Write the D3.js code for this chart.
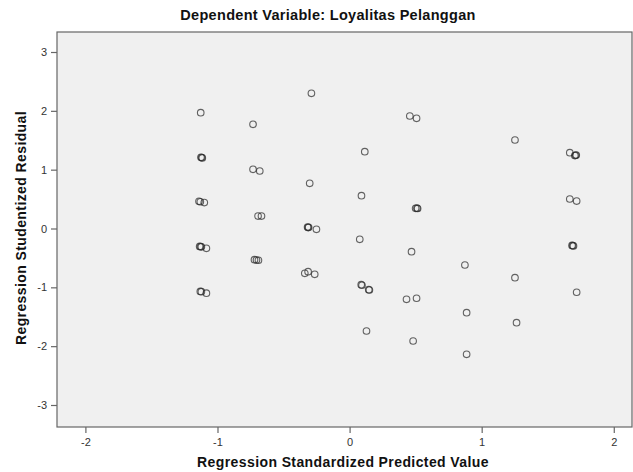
<!DOCTYPE html>
<html><head><meta charset="utf-8">
<script src="https://cdn.jsdelivr.net/npm/d3@7"></script>
<style>
html,body{margin:0;padding:0;background:#fff;}
text{font-family:"Liberation Sans",Arial,sans-serif;}
</style></head>
<body><svg id="c" width="633" height="472"></svg>
<script>
const title = "Dependent Variable: Loyalitas Pelanggan";
const xLabel = "Regression Standardized Predicted Value";
const yLabel = "Regression Studentized Residual";
const xTicks = [-2, -1, 0, 1, 2];
const yTicks = [-3, -2, -1, 0, 1, 2, 3];
// Standardized predicted values
const predicted = [
 -1.127, -1.125, -1.120, -1.115, -1.140, -1.130, -1.100, -1.135, -1.128, -1.122, -1.084, -1.130, -1.122, -1.084,
 -0.731, -0.731, -0.680, -0.693, -0.667, -0.720, -0.705, -0.690,
 -0.289, -0.302, -0.318, -0.310, -0.314, -0.251, -0.339, -0.314, -0.264,
 0.115, 0.090, 0.077, 0.088, 0.094, 0.145, 0.150, 0.128,
 0.456, 0.507, 0.500, 0.510, 0.515, 0.469, 0.431, 0.507, 0.481,
 0.873, 0.886, 0.886,
 1.252, 1.252, 1.264,
 1.667, 1.705, 1.711, 1.716, 1.667, 1.719, 1.684, 1.689, 1.695, 1.719
];
// Studentized residuals
const residual = [
 1.968, 1.210, 1.205, 1.200, 0.462, 0.455, 0.440, -0.305, -0.309, -0.312, -0.337, -1.070, -1.074, -1.100,
 1.771, 1.006, 0.977, 0.212, 0.212, -0.530, -0.535, -0.540,
 2.298, 0.768, 0.025, 0.020, 0.015, -0.014, -0.762, -0.734, -0.779,
 1.305, 0.558, -0.184, -0.955, -0.965, -1.040, -1.045, -1.742,
 1.912, 1.873, 0.343, 0.345, 0.340, -0.394, -1.203, -1.186, -1.912,
 -0.620, -1.431, -2.138,
 1.504, -0.836, -1.601,
 1.288, 1.240, 1.244, 1.248, 0.501, 0.467, -0.288, -0.292, -0.296, -1.084
];

const svg = d3.select("#c");
const L = 57, R = 632, T = 32, B = 427;
const x = d3.scaleLinear().domain([-2.215, 2.138]).range([L, R]);
const y = d3.scaleLinear().domain([-3.374, 3.34]).range([B, T]);

svg.append("rect").attr("x", L).attr("y", T).attr("width", R - L).attr("height", B - T)
  .attr("fill", "#f0f0f0").attr("stroke", "#666").attr("stroke-width", 1.2);

const fmt = d => String(d);
const xAxis = svg.append("g").attr("transform", `translate(0,${B})`)
  .call(d3.axisBottom(x).tickValues(xTicks).tickSize(6).tickSizeOuter(0).tickFormat(fmt));
const yAxis = svg.append("g").attr("transform", `translate(${L},0)`)
  .call(d3.axisLeft(y).tickValues(yTicks).tickSize(6).tickSizeOuter(0).tickFormat(fmt));
[xAxis, yAxis].forEach(a => {
  a.select(".domain").remove();
  a.selectAll(".tick line").attr("stroke", "#666").attr("stroke-width", 1.2);
  a.selectAll(".tick text").attr("fill", "#333").attr("font-size", 11).attr("font-family", "Liberation Sans, Arial, sans-serif");
});
xAxis.selectAll(".tick text").attr("dy", "0.9em");
yAxis.selectAll(".tick text").attr("dx", "-1px");

svg.append("g").selectAll("circle").data(predicted.map((p, i) => [p, residual[i]])).join("circle")
  .attr("cx", d => x(d[0])).attr("cy", d => y(d[1])).attr("r", 3.3)
  .attr("fill", "none").attr("stroke", "#2a2a2a").attr("stroke-opacity", 0.72).attr("stroke-width", 1.1);

svg.append("text").attr("x", 328).attr("y", 20).attr("text-anchor", "middle")
  .attr("font-size", 14.5).attr("font-weight", "bold").attr("letter-spacing", "0.3px").attr("fill", "#111").text(title);
svg.append("text").attr("x", 343).attr("y", 467).attr("text-anchor", "middle")
  .attr("font-size", 14).attr("font-weight", "bold").attr("letter-spacing", "0.4px").attr("fill", "#111").text(xLabel);
svg.append("text").attr("transform", "translate(26,228) rotate(-90)").attr("text-anchor", "middle")
  .attr("font-size", 14).attr("font-weight", "bold").attr("letter-spacing", "0.4px").attr("fill", "#111").text(yLabel);
</script></body></html>
